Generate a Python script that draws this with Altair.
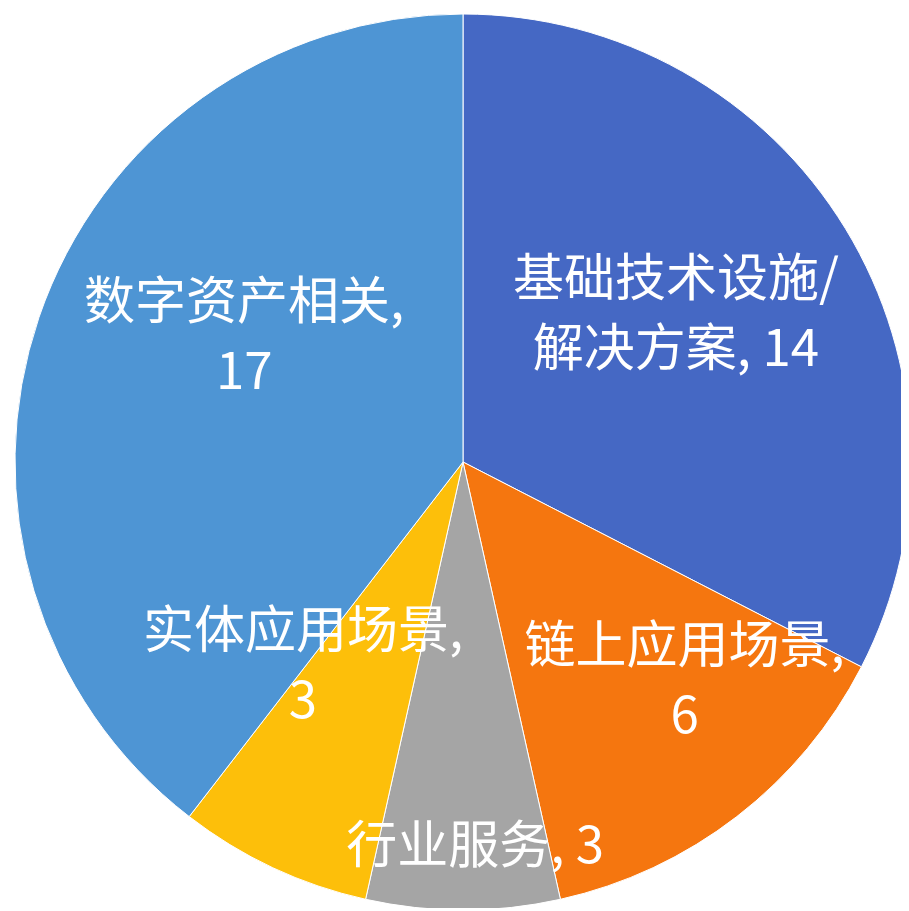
import altair as alt
import pandas as pd

# ---- data ----
categories = ["基础技术设施/解决方案", "链上应用场景", "行业服务", "实体应用场景", "数字资产相关"]
values = [14, 6, 3, 3, 17]
labels = [
    "基础技术设施/|解决方案, 14",
    "链上应用场景,|6",
    "行业服务, 3",
    "实体应用场景,|3",
    "数字资产相关,|17",
]
colors = ["#4568c4", "#f5760f", "#a5a5a5", "#fdbf0a", "#4e95d4"]

# ---- label layout (radius in px, angular shift in degrees from slice middle) ----
label_radius = [258, 313, 386, 261, 251]
label_shift = [-3.0, -7.4, -1.8, 12.7, 10.5]

W, H = 876, 892
CX, CY = W / 2, H / 2
R = 448
LINE_H = 70

df = pd.DataFrame({
    "category": categories,
    "value": values,
    "label": labels,
    "order": list(range(len(categories))),
    "r": label_radius,
    "shift": label_shift,
})

base = alt.Chart(df)

arcs = base.mark_arc(radius=R, stroke="#ffffff", strokeWidth=1).encode(
    theta=alt.Theta("value:Q", stack=True),
    color=alt.Color("category:N", scale=alt.Scale(domain=categories, range=colors), legend=None),
    order=alt.Order("order:Q"),
)

text = base.transform_window(
    cum="sum(value)", sort=[alt.SortField("order")], frame=[None, 0]
).transform_joinaggregate(
    total="sum(value)"
).transform_calculate(
    ang="((datum.cum - datum.value / 2) / datum.total * 360 + datum.shift) * PI / 180",
    lines="split(datum.label, '|')",
).transform_calculate(
    px=f"{CX} + datum.r * sin(datum.ang)",
    py=f"{CY} - datum.r * cos(datum.ang) - (length(datum.lines) - 1) * {LINE_H} / 2",
).mark_text(
    font="Noto Sans CJK SC",
    fontSize=51,
    color="#ffffff",
    align="center",
    baseline="middle",
    lineHeight=LINE_H,
).encode(
    x=alt.X("px:Q", scale=None, axis=None),
    y=alt.Y("py:Q", scale=None, axis=None),
    text=alt.Text("lines:N"),
)

chart = alt.layer(arcs, text).properties(
    width=W,
    height=H,
    autosize=alt.AutoSizeParams(type="none"),
    padding={"left": 17, "top": 8, "right": 0, "bottom": 0},
).configure_view(stroke=None)

chart.save("out.html", embed_options={"renderer": "svg", "actions": False})
